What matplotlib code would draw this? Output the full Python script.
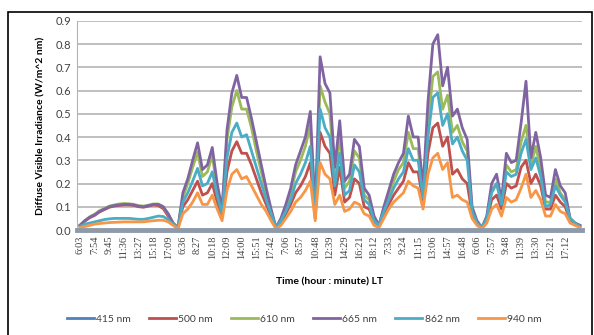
import numpy as np
import matplotlib
matplotlib.use('Agg')
import matplotlib.pyplot as plt
from matplotlib.patches import Rectangle

# tick labels (one every 3 samples)
time_labels = ['6:03', '7:54', '9:45', '11:36', '13:27', '15:18', '17:09',
               '6:36', '8:27', '10:18', '12:09', '14:00', '15:51', '17:42',
               '7:06', '8:57', '10:48', '12:39', '14:29', '16:21', '18:12',
               '7:33', '9:24', '11:15', '13:06', '14:57', '16:48',
               '6:06', '7:57', '9:48', '11:39', '13:30', '15:21', '17:12']

# 665 nm (purple)
w665 = [.02, .04, .055, .065, .08, .09, .10, .105, .108, .11, .11, .108, .102, .10, .105, .11, .11, .10, .07, .03,
        .01, .16, .22, .30, .375, .26, .28, .355, .20, .09, .43, .59, .665, .57, .57, .48, .38, .28, .18, .09,
        .01, .05, .11, .18, .28, .34, .40, .51, .08, .745, .63, .59, .27, .47, .21, .24, .39, .36, .18, .15, .06,
        .02, .10, .17, .24, .29, .33, .49, .40, .40, .18, .55, .80, .84, .62, .70, .49, .52, .44, .39, .10,
        .04, .01, .06, .20, .24, .13, .33, .29, .30, .46, .64, .31, .42, .31, .15, .14, .26, .19, .16, .05, .03, .02]
# 610 nm (green)
w610 = [.02, .04, .057, .068, .083, .093, .103, .108, .112, .114, .113, .11, .105, .103, .107, .112, .112, .10, .068, .03,
        .01, .14, .20, .27, .335, .23, .25, .32, .18, .08, .39, .53, .60, .52, .52, .44, .34, .25, .16, .08,
        .01, .045, .10, .16, .25, .30, .36, .45, .07, .62, .55, .50, .23, .40, .18, .21, .34, .31, .15, .13, .05,
        .02, .09, .15, .21, .26, .29, .42, .35, .35, .16, .46, .66, .68, .52, .58, .42, .45, .38, .34, .09,
        .035, .01, .055, .17, .20, .12, .28, .25, .26, .38, .45, .28, .36, .26, .12, .12, .22, .16, .13, .05, .03, .02]
# 862 nm (cyan)
w862 = [.015, .025, .03, .035, .04, .045, .048, .05, .05, .05, .05, .048, .046, .046, .05, .055, .06, .058, .045, .025,
        .01, .12, .16, .21, .265, .19, .20, .25, .15, .07, .31, .42, .46, .40, .41, .34, .27, .20, .13, .07,
        .01, .04, .08, .13, .20, .24, .29, .36, .06, .52, .44, .40, .19, .33, .15, .17, .28, .25, .13, .11, .04,
        .02, .08, .13, .18, .22, .25, .35, .30, .30, .14, .40, .57, .59, .45, .50, .37, .40, .34, .30, .08,
        .03, .01, .05, .16, .20, .11, .25, .23, .24, .33, .39, .26, .31, .23, .10, .11, .19, .15, .12, .05, .03, .015]
# 500 nm (red)
w500 = [.02, .038, .053, .063, .078, .088, .098, .103, .106, .108, .108, .106, .10, .098, .103, .108, .105, .092, .06, .025,
        .01, .10, .13, .17, .21, .15, .16, .20, .12, .06, .25, .34, .38, .33, .33, .28, .22, .16, .11, .06,
        .01, .03, .07, .11, .16, .19, .23, .29, .05, .42, .36, .33, .15, .27, .12, .14, .22, .20, .10, .09, .035,
        .02, .07, .11, .15, .18, .21, .29, .25, .25, .12, .33, .44, .46, .36, .40, .24, .26, .22, .20, .07,
        .03, .01, .04, .13, .15, .09, .20, .18, .19, .27, .30, .20, .24, .19, .09, .09, .15, .12, .10, .04, .025, .015]
# 940 nm (orange)
w940 = [.01, .015, .02, .025, .028, .03, .032, .033, .034, .035, .035, .035, .035, .035, .038, .04, .042, .042, .035, .02,
        .005, .07, .09, .12, .16, .11, .11, .15, .09, .04, .17, .24, .26, .22, .23, .19, .15, .11, .08, .04,
        .005, .02, .05, .08, .12, .14, .17, .21, .04, .29, .24, .22, .11, .15, .08, .09, .12, .11, .07, .06, .02,
        .01, .05, .09, .12, .14, .16, .21, .19, .18, .09, .24, .31, .33, .26, .29, .14, .15, .13, .12, .05,
        .02, .005, .03, .09, .11, .06, .14, .12, .13, .18, .24, .14, .17, .13, .06, .06, .11, .08, .07, .03, .02, .01]
# 415 nm sits on the zero line the whole time
w415 = [0.0] * len(w665)

series = [('415 nm', w415, '#4F81BD'),
          ('500 nm', w500, '#C0504D'),
          ('610 nm', w610, '#9BBB59'),
          ('665 nm', w665, '#8064A2'),
          ('862 nm', w862, '#4BACC6'),
          ('940 nm', w940, '#F79646')]

x = np.arange(len(w665))

fig = plt.figure(figsize=(5.94, 3.35), dpi=100)
ax = fig.add_axes([0.1296, 0.3134, 0.8504, 0.6246])

for name, vals, col in series:
    ax.plot(x, vals, color=col, lw=2, label=name, solid_joinstyle='round')

ax.set_xlim(-0.6, 102.45)
ax.set_ylim(0, 0.9)
ax.set_yticks(np.arange(0, 0.91, 0.1))
ax.set_yticklabels([f'{v:.1f}' for v in np.arange(0, 0.91, 0.1)], fontsize=8, family='Lato', color='#404040')
ax.yaxis.grid(True, color='#b4b4b4', lw=1.2)
ax.set_axisbelow(True)
ax.set_xticks(np.arange(0, 3 * len(time_labels), 3))
ax.set_xticklabels(time_labels, rotation=90, fontsize=7.5, family='Liberation Serif', color='#404040')
ax.tick_params(length=0, pad=4)
for s in ['top', 'right']:
    ax.spines[s].set_visible(False)
ax.spines['left'].set_color('#b4b4b4')
ax.spines['bottom'].set_color('#8e99aa')
ax.spines['bottom'].set_linewidth(3.5)

ax.set_ylabel('Diffuse Visible Irradiance (W/m^2 nm)', fontsize=7.5, fontweight='bold', family='Lato', labelpad=7)
ax.set_xlabel('Time (hour : minute) LT', fontsize=7.5, fontweight='bold', family='Lato', labelpad=13)

fig.legend(loc='center', bbox_to_anchor=(0.512, 0.048), ncol=6, frameon=False,
           prop={'family': 'Lato', 'size': 7.5}, handlelength=2.6, handletextpad=0.2, columnspacing=1.75,
           labelcolor='#404040')

fig.patches.append(Rectangle((8 / 594, -0.1), 583.5 / 594, 1.1 - 12 / 335, transform=fig.transFigure,
                             fill=False, edgecolor='black', lw=1.2))

fig.savefig('out.png', dpi=100)
